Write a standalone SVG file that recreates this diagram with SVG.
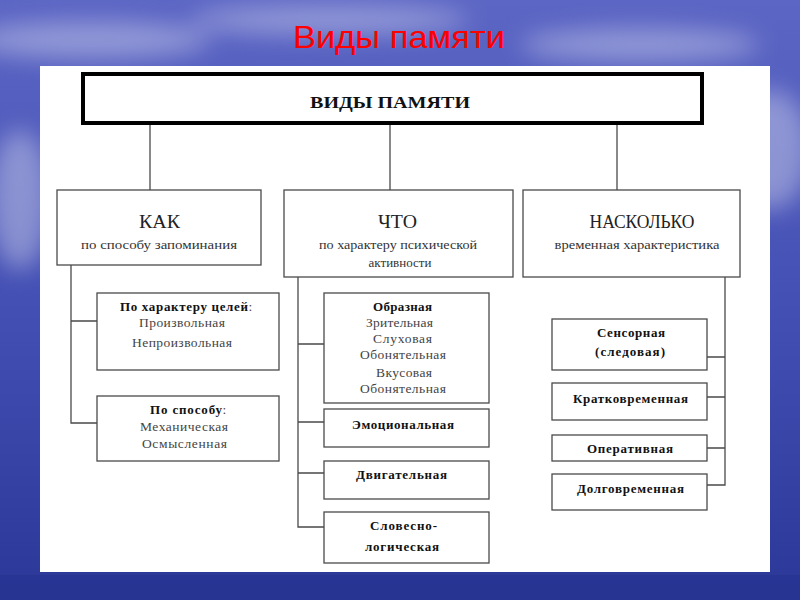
<svg xmlns="http://www.w3.org/2000/svg" width="800" height="600" viewBox="0 0 800 600">
<defs>
<linearGradient id="bg" x1="0" y1="0" x2="0" y2="1">
<stop offset="0" stop-color="#5c66c4"/>
<stop offset="0.5" stop-color="#4450b4"/>
<stop offset="1" stop-color="#2c3898"/>
</linearGradient>
<filter id="blur" x="-50%" y="-50%" width="200%" height="200%"><feGaussianBlur stdDeviation="12"/></filter>
<style>
.box{fill:#fff;stroke:#4a4a4a;stroke-width:1.3}
.ln{fill:none;stroke:#4a4a4a;stroke-width:1.3}
.t{font-family:"Liberation Serif","Times New Roman",serif;text-anchor:middle}
.b{font-weight:bold;fill:#111;font-size:13px}
.r{fill:#444;font-size:13.5px}
.cat{fill:#222;font-size:18px}
.sub{fill:#333;font-size:13px}
</style>
</defs>
<rect x="0" y="0" width="800" height="600" fill="url(#bg)"/>
<g filter="url(#blur)" fill="#fff" opacity="0.35">
<ellipse cx="90" cy="40" rx="120" ry="18"/>
<ellipse cx="330" cy="20" rx="140" ry="14"/>
<ellipse cx="640" cy="45" rx="120" ry="16"/>
<ellipse cx="770" cy="150" rx="40" ry="60"/>
<ellipse cx="20" cy="200" rx="30" ry="70"/>
</g>
<g opacity="0.25" fill="#1c2680">
<rect x="0" y="575" width="800" height="25"/>
</g>
<text x="399" y="48" font-family="Liberation Sans, Arial, sans-serif" font-size="32" fill="#ff0000" text-anchor="middle" textLength="212" lengthAdjust="spacingAndGlyphs">Виды памяти</text>
<rect x="40" y="66" width="730" height="506" fill="#fff"/>

<g id="connectors">
<path class="ln" d="M150 124V190M390 124V190M617 124V190"/>
<path class="ln" d="M71 265V423H97M71 321H97"/>
<path class="ln" d="M298 277V527H324M298 344H324M298 422H324M298 473H324"/>
<path class="ln" d="M725 277V485H707M725 357H707M725 397H707M725 448H707"/>
</g>

<g id="root">
<rect x="83" y="74" width="619" height="49" fill="#fff" stroke="#000" stroke-width="4"/>
<text class="t" x="390" y="108" font-size="17" font-weight="bold" fill="#111" textLength="160" lengthAdjust="spacingAndGlyphs">ВИДЫ ПАМЯТИ</text>
</g>

<g id="kak">
<rect class="box" x="57" y="190" width="204" height="75"/>
<text class="t cat" x="159.5" y="228" textLength="41" lengthAdjust="spacingAndGlyphs">КАК</text>
<text class="t sub" x="159" y="249" textLength="156" lengthAdjust="spacingAndGlyphs">по способу запоминания</text>
</g>
<g id="chto">
<rect class="box" x="284" y="190" width="229" height="87"/>
<text class="t cat" x="397.5" y="228" textLength="39" lengthAdjust="spacingAndGlyphs">ЧТО</text>
<text class="t sub" x="398" y="249" textLength="158" lengthAdjust="spacingAndGlyphs">по характеру психической</text>
<text class="t sub" x="400" y="267" textLength="63">активности</text>
</g>
<g id="naskolko">
<rect class="box" x="523" y="190" width="217" height="87"/>
<text class="t cat" x="642" y="228" textLength="105" lengthAdjust="spacingAndGlyphs">НАСКОЛЬКО</text>
<text class="t sub" x="637" y="249" textLength="165" lengthAdjust="spacingAndGlyphs">временная характеристика</text>
</g>

<g id="celi">
<rect class="box" x="97" y="293" width="182" height="77"/>
<text class="t b" x="184" y="311" textLength="128">По характеру целей</text>
<text class="t r" x="250.5" y="311">:</text>
<text class="t r" x="182" y="327" textLength="86">Произвольная</text>
<text class="t r" x="182" y="347" textLength="100">Непроизвольная</text>
</g>
<g id="sposob">
<rect class="box" x="97" y="396" width="182" height="65"/>
<text class="t b" x="186" y="414" textLength="72">По способу</text>
<text class="t r" x="224.5" y="414">:</text>
<text class="t r" x="184" y="431" textLength="88">Механическая</text>
<text class="t r" x="184.5" y="448" textLength="85">Осмысленная</text>
</g>

<g id="obraznaya">
<rect class="box" x="324" y="293" width="165" height="110"/>
<text class="t b" x="402.5" y="311" textLength="59">Образная</text>
<text class="t r" x="399.5" y="327" textLength="67">Зрительная</text>
<text class="t r" x="402.5" y="343" textLength="59">Слуховая</text>
<text class="t r" x="403" y="359" textLength="86">Обонятельная</text>
<text class="t r" x="404" y="377" textLength="56">Вкусовая</text>
<text class="t r" x="403" y="393" textLength="86">Обонятельная</text>
</g>
<g id="emo">
<rect class="box" x="324" y="409" width="165" height="38"/>
<text class="t b" x="403" y="429" textLength="102">Эмоциональная</text>
</g>
<g id="dvig">
<rect class="box" x="324" y="461" width="165" height="38"/>
<text class="t b" x="401.5" y="479" textLength="91">Двигательная</text>
</g>
<g id="slov">
<rect class="box" x="324" y="512" width="165" height="51"/>
<text class="t b" x="403.5" y="530" textLength="67">Словесно-</text>
<text class="t b" x="402" y="551" textLength="74">логическая</text>
</g>

<g id="sensor">
<rect class="box" x="552" y="319" width="155" height="51"/>
<text class="t b" x="631" y="337" textLength="68">Сенсорная</text>
<text class="t b" x="630" y="356" textLength="70">(следовая)</text>
</g>
<g id="kratko">
<rect class="box" x="552" y="383" width="155" height="37"/>
<text class="t b" x="630.5" y="403" textLength="115">Кратковременная</text>
</g>
<g id="operat">
<rect class="box" x="552" y="435" width="155" height="26"/>
<text class="t b" x="630" y="453" textLength="86">Оперативная</text>
</g>
<g id="dolgo">
<rect class="box" x="552" y="474" width="155" height="36"/>
<text class="t b" x="630.5" y="493" textLength="107">Долговременная</text>
</g>
</svg>
